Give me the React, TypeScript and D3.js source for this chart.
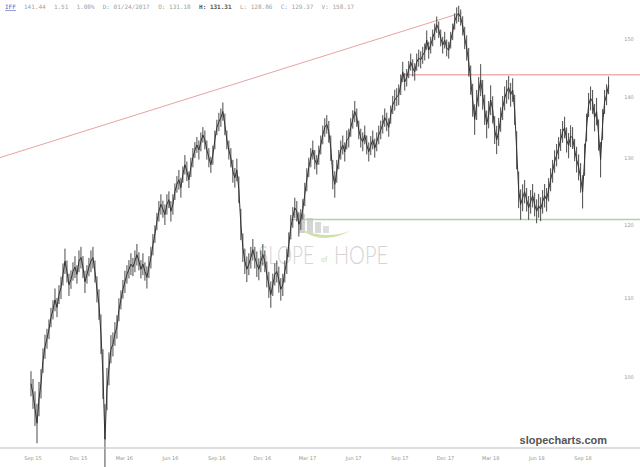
import React from 'react';
import * as d3 from 'd3';

// Closing prices (IFF), sampled every ~4 calendar days, Aug 28 2015 -> Oct 22 2018
const closes: number[] = [
  99.2, 98.0, 96.3, 94.6, 97.4, 99.2, 102.0, 103.7, 104.7, 105.9,
  107.4, 108.4, 109.7, 108.7, 110.4, 111.3, 113.1, 114.9, 113.5, 111.7,
  112.4, 113.5, 114.1, 113.1, 114.9, 115.4, 114.1, 112.1, 113.1, 114.1,
  114.9, 115.4, 113.5, 111.1, 109.1, 105.3, 100.4, 92.8, 98.6, 101.0,
  103.4, 104.0, 105.3, 106.2, 108.4, 109.7, 111.1, 112.1, 113.1, 113.8,
  114.5, 114.1, 114.9, 115.8, 114.9, 113.8, 114.5, 113.5, 112.7, 114.1,
  115.4, 117.2, 118.7, 120.5, 122.0, 123.0, 122.3, 121.5, 123.0, 123.7,
  122.0, 123.0, 124.9, 126.0, 126.7, 125.5, 127.5, 129.0, 128.0, 126.7,
  128.6, 130.1, 131.3, 132.1, 131.3, 132.6, 133.7, 132.9, 131.3, 130.1,
  129.0, 130.5, 132.9, 134.9, 135.8, 136.5, 137.5, 135.4, 132.9, 131.3,
  130.1, 128.0, 127.0, 128.2, 125.2, 120.1, 116.8, 114.9, 113.8, 114.5,
  115.4, 116.5, 115.4, 114.5, 113.8, 114.9, 115.8, 114.9, 113.1, 111.7,
  110.4, 111.7, 113.1, 113.5, 112.4, 111.1, 111.7, 113.5, 114.9, 117.2,
  119.7, 121.1, 122.5, 122.0, 120.1, 120.8, 122.3, 124.5, 126.7, 128.6,
  130.1, 131.3, 129.8, 129.0, 130.5, 132.1, 133.7, 134.9, 135.4, 134.2,
  131.6, 127.5, 126.0, 128.0, 129.8, 131.3, 132.1, 131.0, 132.9, 133.2,
  134.9, 136.2, 137.5, 136.5, 134.5, 133.2, 132.6, 133.7, 132.1, 131.0,
  132.0, 132.9, 131.6, 132.6, 133.7, 134.5, 135.4, 136.5, 135.8, 134.9,
  137.0, 138.6, 139.4, 139.9, 140.3, 142.0, 144.2, 142.5, 143.2, 144.6,
  145.9, 144.9, 144.2, 145.9, 146.6, 146.3, 147.1, 147.7, 149.8, 148.0,
  148.9, 150.2, 151.3, 152.6, 151.7, 150.2, 148.9, 149.8, 148.4, 148.0,
  149.8, 151.3, 153.2, 154.3, 154.6, 153.9, 152.4, 150.2, 148.4, 145.9,
  142.8, 139.4, 136.2, 138.6, 140.8, 142.8, 140.3, 137.8, 135.4, 137.0,
  139.4, 137.8, 134.5, 132.9, 134.2, 136.2, 138.1, 139.7, 140.8, 141.5,
  140.3, 141.1, 137.8, 131.3, 125.2, 123.0, 124.0, 124.9, 123.7, 122.5,
  123.4, 124.3, 123.0, 122.0, 122.8, 122.3, 123.4, 124.3, 123.7, 125.2,
  126.7, 128.0, 129.5, 130.5, 131.6, 132.9, 134.2, 134.9, 132.9, 132.0,
  133.5, 133.2, 131.3, 129.8, 128.6, 127.0, 124.9, 129.8, 134.9, 138.6,
  139.7, 139.1, 136.5, 137.5, 133.7, 129.8, 135.4, 139.1, 140.3, 141.9,
];
// Daily high-low span within each sample (dollars)
const spans: number[] = [
  3.0, 3.5, 4.0, 4.5, 4.0, 3.5, 3.0, 3.0, 2.5, 2.5,
  2.5, 2.5, 3.0, 2.5, 2.5, 3.0, 3.0, 3.5, 3.0, 3.0,
  2.5, 2.5, 3.0, 2.5, 3.0, 3.0, 3.0, 3.0, 2.5, 2.5,
  3.0, 3.0, 3.0, 3.5, 4.0, 5.0, 6.0, 8.0, 5.0, 4.0,
  3.5, 3.0, 3.0, 3.0, 3.0, 2.5, 2.5, 3.0, 2.5, 2.5,
  3.0, 2.5, 3.0, 3.0, 2.5, 2.5, 3.0, 2.5, 3.0, 3.0,
  3.0, 3.0, 2.5, 2.5, 3.0, 3.0, 2.5, 3.0, 3.0, 2.5,
  3.0, 3.0, 2.5, 2.5, 3.0, 3.0, 2.5, 3.0, 3.0, 2.5,
  3.0, 3.0, 2.5, 2.5, 3.0, 3.0, 2.5, 3.0, 3.0, 3.0,
  2.5, 3.0, 3.0, 2.5, 3.0, 3.0, 3.0, 3.5, 3.0, 3.0,
  3.0, 3.5, 3.0, 3.5, 4.0, 4.5, 4.0, 3.5, 3.5, 3.0,
  3.0, 3.0, 3.0, 3.5, 3.0, 3.0, 3.0, 3.0, 3.5, 3.5,
  3.5, 3.0, 3.0, 3.0, 3.5, 3.0, 3.0, 3.0, 3.5, 3.5,
  3.5, 3.0, 3.0, 3.0, 3.5, 3.0, 3.0, 3.5, 3.5, 3.0,
  3.0, 3.0, 3.0, 3.0, 3.0, 3.0, 3.0, 3.0, 3.0, 3.5,
  4.0, 4.5, 4.0, 3.5, 3.0, 3.0, 3.0, 3.0, 3.0, 3.0,
  3.0, 3.0, 3.5, 3.0, 3.0, 3.0, 3.0, 3.0, 3.0, 3.0,
  3.0, 3.0, 3.0, 3.0, 3.0, 3.0, 3.0, 3.0, 3.0, 3.0,
  3.0, 3.0, 3.5, 3.0, 3.5, 3.5, 3.5, 3.0, 3.0, 3.0,
  3.0, 3.0, 3.0, 3.0, 3.0, 3.0, 3.0, 3.0, 3.5, 3.0,
  3.0, 3.0, 3.0, 3.0, 3.0, 3.0, 3.0, 3.0, 3.0, 3.0,
  3.0, 3.0, 3.0, 3.0, 3.0, 3.0, 3.5, 4.0, 4.5, 5.0,
  5.0, 5.5, 5.0, 5.0, 5.0, 5.5, 5.0, 5.0, 4.5, 4.5,
  5.0, 4.5, 4.5, 4.5, 4.5, 4.0, 4.0, 4.0, 4.0, 4.0,
  4.0, 4.0, 5.0, 6.0, 5.5, 4.5, 4.0, 3.5, 3.5, 3.5,
  3.5, 3.5, 3.5, 3.5, 3.5, 3.5, 3.5, 3.5, 3.5, 3.5,
  3.5, 3.5, 3.5, 3.5, 3.5, 3.5, 3.5, 3.5, 4.0, 4.0,
  3.5, 3.5, 3.5, 4.0, 4.0, 4.5, 5.0, 5.0, 4.5, 4.0,
  4.0, 4.0, 4.5, 4.5, 5.0, 5.5, 5.0, 4.0, 3.5, 3.0,
];
const seriesStart = new Date(2015, 7, 28);
const seriesEnd = new Date(2018, 9, 22);

const yTicks = [150, 140, 130, 120, 110, 100];
const xTickLabels = ['Sep 15', 'Dec 15', 'Mar 16', 'Jun 16', 'Sep 16', 'Dec 16', 'Mar 17', 'Jun 17', 'Sep 17', 'Dec 17', 'Mar 18', 'Jun 18', 'Sep 18'];
const xTickDates = [
  new Date(2015, 8, 1), new Date(2015, 11, 1), new Date(2016, 2, 1), new Date(2016, 5, 1),
  new Date(2016, 8, 1), new Date(2016, 11, 1), new Date(2017, 2, 1), new Date(2017, 5, 1),
  new Date(2017, 8, 1), new Date(2017, 11, 1), new Date(2018, 2, 1), new Date(2018, 5, 1),
  new Date(2018, 8, 1),
];

// Drawn annotations (date, price)
const trendLine = [
  { d: new Date(2015, 5, 27), p: 130.1 },
  { d: new Date(2018, 0, 2), p: 154.8 },
];
const resistance = { d: new Date(2017, 8, 5), p: 143.7 };
const support = { d: new Date(2017, 0, 25), p: 120.8 };

const headerTokens = ['141.44', '1.51', '1.08%', 'D: 01/24/2017', 'O: 131.18', 'H: 131.31', 'L: 128.86', 'C: 129.37', 'V: 158.17'];

const W = 640;
const H = 467;

export default function App() {
  const x = d3.scaleTime().domain([new Date(2015, 8, 1), new Date(2018, 8, 1)]).range([33, 583]);
  const y = d3.scaleLog().domain([150, 100]).range([39, 377]);
  const n = closes.length;
  const t0 = seriesStart.getTime();
  const t1 = seriesEnd.getTime();
  const pts = closes.map((c, i) => ({ d: new Date(t0 + (i * (t1 - t0)) / (n - 1)), c, s: spans[i] ?? 3 }));
  const line = d3
    .line<{ d: Date; c: number }>()
    .x((p) => x(p.d))
    .y((p) => y(p.c));

  let hx = 24;
  const headerPos = headerTokens.map((t) => {
    const pos = hx;
    hx += t.length * 3.65 + 8;
    return pos;
  });

  return (
    <svg width={W} height={H} style={{ position: 'absolute', left: 0, top: 0, background: '#fff' }}>
      <rect x={0} y={0} width={W} height={H} fill="#fff" />
      {/* watermark */}
      <g>
        <rect x={299} y={214} width={6} height={19} fill="#cfcfcf" />
        <rect x={307} y={218} width={6} height={15} fill="#d4d4d4" />
        <rect x={315} y={222} width={6} height={11} fill="#d9d9d9" />
        <rect x={323} y={226} width={6} height={7} fill="#dedede" />
        <path d="M300,229 Q322,246 350,231 Q326,240 300,229 Z" fill="#cfe0ad" />
        <g transform="translate(258,264) scale(1,1.3)">
          <text x={0} y={0} fontFamily="Lato, 'Open Sans', sans-serif" fontWeight={300} fontSize={19} fill="#d4d4d4">SLOPE</text>
        </g>
        <text x={321} y={262} fontFamily="Lato, sans-serif" fontSize={7} fill="#c8dca8">of</text>
        <g transform="translate(334,264) scale(1,1.3)">
          <text x={0} y={0} fontFamily="Lato, 'Open Sans', sans-serif" fontWeight={300} fontSize={20} fill="#d4d4d4">HOPE</text>
        </g>
      </g>
      {/* annotation lines */}
      <line x1={x(trendLine[0].d)} y1={y(trendLine[0].p)} x2={x(trendLine[1].d)} y2={y(trendLine[1].p)} stroke="#e7a3a3" strokeWidth={1} />
      <line x1={x(resistance.d)} y1={y(resistance.p)} x2={W} y2={y(resistance.p)} stroke="#efb0b0" strokeWidth={1.5} />
      <line x1={x(support.d)} y1={y(support.p)} x2={W} y2={y(support.p)} stroke="#a9d89c" strokeWidth={1.5} />
      {/* price */}
      <g stroke="#4a4a4a" strokeWidth={1}>
        {pts.map((p, i) => (
          <line key={i} x1={x(p.d)} x2={x(p.d)} y1={y(p.c + p.s / 2)} y2={y(p.c - p.s / 2)} />
        ))}
      </g>
      <path d={line(pts) || ''} fill="none" stroke="#333" strokeWidth={1} strokeLinejoin="miter" />
      {/* y labels */}
      {yTicks.map((v) => (
        <text key={v} x={629} y={y(v) + 2} textAnchor="middle" fontFamily="'DejaVu Sans', sans-serif" fontSize={5} fill="#9a9a9a">{v}</text>
      ))}
      {/* x axis */}
      <line x1={0} y1={448} x2={W} y2={448} stroke="#bdbdbd" strokeWidth={1} />
      {xTickDates.map((d, i) => (
        <text key={i} x={x(d)} y={460} textAnchor="middle" fontFamily="'DejaVu Sans', sans-serif" fontSize={5} fill="#8f9a88">{xTickLabels[i]}</text>
      ))}
      <text x={607} y={444} textAnchor="end" fontFamily="'Liberation Sans', Arial, sans-serif" fontWeight="bold" fontSize={11} fill="#555">slopecharts.com</text>
      {/* header */}
      <text x={5} y={9} fontFamily="'DejaVu Sans Mono', monospace" fontSize={6} fill="#4a5fc1" textDecoration="underline">IFF</text>
      {headerTokens.map((t, i) => (
        <text key={t} x={headerPos[i]} y={9} fontFamily="'DejaVu Sans Mono', monospace" fontSize={6} fill={t.startsWith('H:') ? '#555' : '#a0a0a0'} fontWeight={t.startsWith('H:') ? 'bold' : 'normal'}>{t}</text>
      ))}
    </svg>
  );
}
